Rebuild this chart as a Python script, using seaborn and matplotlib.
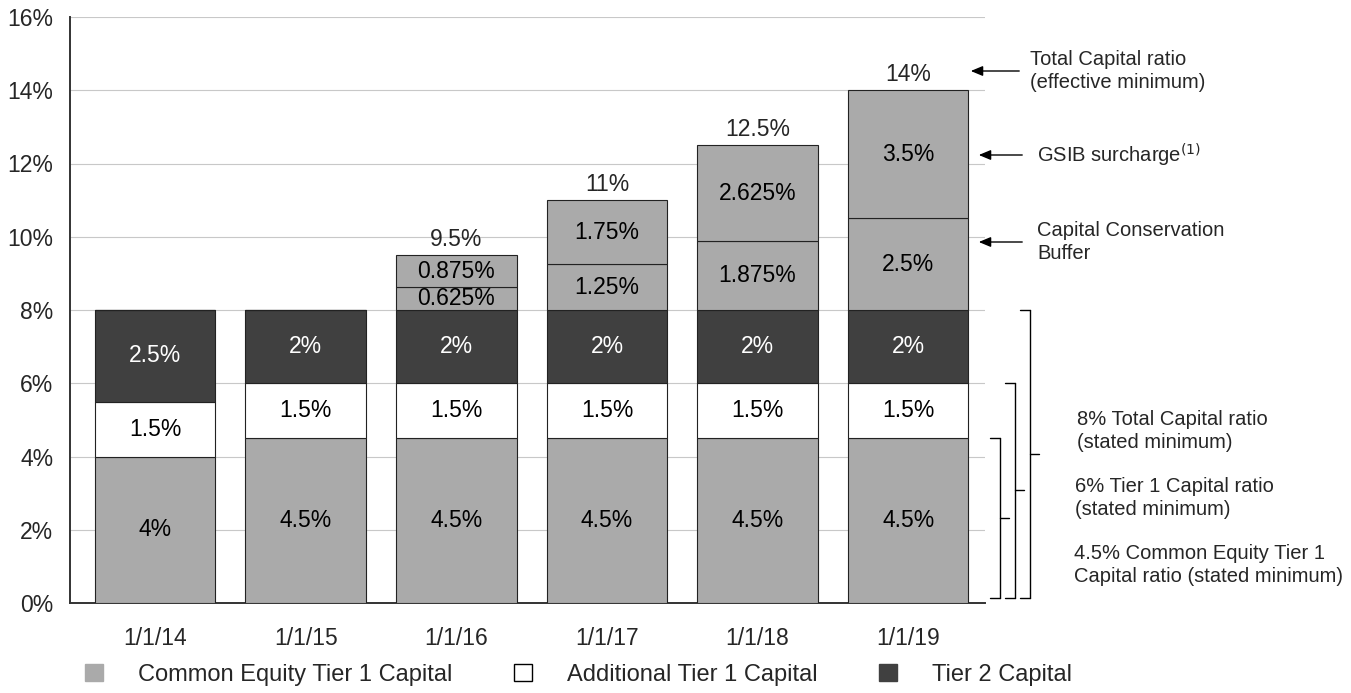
import matplotlib
matplotlib.use("Agg")
import matplotlib.pyplot as plt
import matplotlib.transforms as mtransforms
from matplotlib.patches import Patch, FancyArrowPatch
import seaborn as sns

# data
dates = ["1/1/14", "1/1/15", "1/1/16", "1/1/17", "1/1/18", "1/1/19"]
cet1 = [4, 4.5, 4.5, 4.5, 4.5, 4.5]
at1 = [1.5, 1.5, 1.5, 1.5, 1.5, 1.5]
tier2 = [2.5, 2, 2, 2, 2, 2]
ccb = [0, 0, 0.625, 1.25, 1.875, 2.5]
gsib = [0, 0, 0.875, 1.75, 2.625, 3.5]
totals = ["", "", "9.5%", "11%", "12.5%", "14%"]

cet1_lbl = ["4%", "4.5%", "4.5%", "4.5%", "4.5%", "4.5%"]
at1_lbl = ["1.5%"] * 6
tier2_lbl = ["2.5%", "2%", "2%", "2%", "2%", "2%"]
ccb_lbl = ["", "", "0.625%", "1.25%", "1.875%", "2.5%"]
gsib_lbl = ["", "", "0.875%", "1.75%", "2.625%", "3.5%"]

legend_names = ["Common Equity Tier 1 Capital", "Additional Tier 1 Capital", "Tier 2 Capital"]

LIGHT = "#aaaaaa"
DARK = "#404040"
FS = 16.5

sns.set_style("white")
plt.rcParams["font.family"] = ["Liberation Sans", "DejaVu Sans"]

W, H = 1351, 693
fig = plt.figure(figsize=(W / 100, H / 100), dpi=100)
ax = fig.add_axes([70 / W, 1 - 603 / H, (985 - 70) / W, (603 - 17) / H])

layers = [
    (cet1, LIGHT, cet1_lbl, "black"),
    (at1, "white", at1_lbl, "black"),
    (tier2, DARK, tier2_lbl, "white"),
    (ccb, LIGHT, ccb_lbl, "black"),
    (gsib, LIGHT, gsib_lbl, "black"),
]

bottom = [0.0] * len(dates)
for vals, col, lbls, tcol in layers:
    sns.barplot(x=dates, y=vals, bottom=bottom, color=col, width=0.8,
                edgecolor="#222222", linewidth=0.8, ax=ax, saturation=1, zorder=3)
    for i, (v, b, t) in enumerate(zip(vals, bottom, lbls)):
        if v > 0 and t:
            ax.text(i, b + v / 2, t, ha="center", va="center", fontsize=FS,
                    color=tcol, zorder=4)
    bottom = [b + v for b, v in zip(bottom, vals)]

for i, (top, t) in enumerate(zip(bottom, totals)):
    if t:
        ax.annotate(t, (i, top), xytext=(0, 3), textcoords="offset points",
                    ha="center", va="bottom", fontsize=FS)

ax.set_ylim(0, 16)
ax.set_xlim(-0.565, 5.51)
ax.set_yticks(range(0, 17, 2))
ax.set_yticklabels([f"{v}%" for v in range(0, 17, 2)])
ax.tick_params(axis="both", labelsize=FS, length=7, width=1, color="#404040",
               direction="out")
ax.tick_params(axis="x", pad=10)
ax.tick_params(axis="y", pad=5)
ax.yaxis.grid(True, color="#c8c8c8", linewidth=0.8, zorder=0)
ax.set_axisbelow(True)
for s in ["top", "right"]:
    ax.spines[s].set_visible(False)
for s in ["left", "bottom"]:
    ax.spines[s].set_color("#333333")
    ax.spines[s].set_linewidth(1.4)


def px(x, y):
    return x / W, 1 - y / H


# arrows with labels on the right
for y0, x_tail, x_head, xt, txt in [
    (71, 1022, 968, 1030, "Total Capital ratio\n(effective minimum)"),
    (155, 1025, 976, 1037, "GSIB surcharge$^{(1)}$"),
    (242, 1025, 976, 1037, "Capital Conservation\nBuffer"),
]:
    fig.add_artist(FancyArrowPatch(px(x_tail, y0), px(x_head, y0),
                                   transform=fig.transFigure,
                                   arrowstyle="-|>,head_length=0.6,head_width=0.25",
                                   mutation_scale=12, color="black", lw=1))
    fig.text(*px(xt, y0), txt, ha="left", va="center", fontsize=14.5, linespacing=1.25)

# brackets (y in data units)
blend = mtransforms.blended_transform_factory(fig.transFigure, ax.transData)
for xb, top in [(1030, 8), (1015, 6), (1000, 4.5)]:
    x1 = xb / W
    x0 = (xb - 10) / W
    bot = 0.15
    mid = (top + bot) / 2
    for xs, ys in [([x0, x1], [top, top]), ([x1, x1], [top, bot]),
                   ([x0, x1], [bot, bot]), ([x1, x1 + 9 / W], [mid, mid])]:
        fig.add_artist(plt.Line2D(xs, ys, transform=blend, color="black", lw=1))

for xt, yt, txt in [(1077, 431, "8% Total Capital ratio\n(stated minimum)"),
                    (1075, 498, "6% Tier 1 Capital ratio\n(stated minimum)"),
                    (1074, 565, "4.5% Common Equity Tier 1\nCapital ratio (stated minimum)")]:
    fig.text(*px(xt, yt), txt, ha="left", va="center", fontsize=14.5, linespacing=1.3)

# legend
handles = [Patch(facecolor=LIGHT, edgecolor=LIGHT),
           Patch(facecolor="white", edgecolor="black"),
           Patch(facecolor=DARK, edgecolor=DARK)]
fig.legend(handles, legend_names, loc="center left", bbox_to_anchor=px(85, 675),
           ncol=3, frameon=False, fontsize=17, handlelength=0.75, handleheight=0.75,
           handletextpad=1.5, columnspacing=2.6, borderaxespad=0, borderpad=0)

fig.savefig("out.png", dpi=100)
